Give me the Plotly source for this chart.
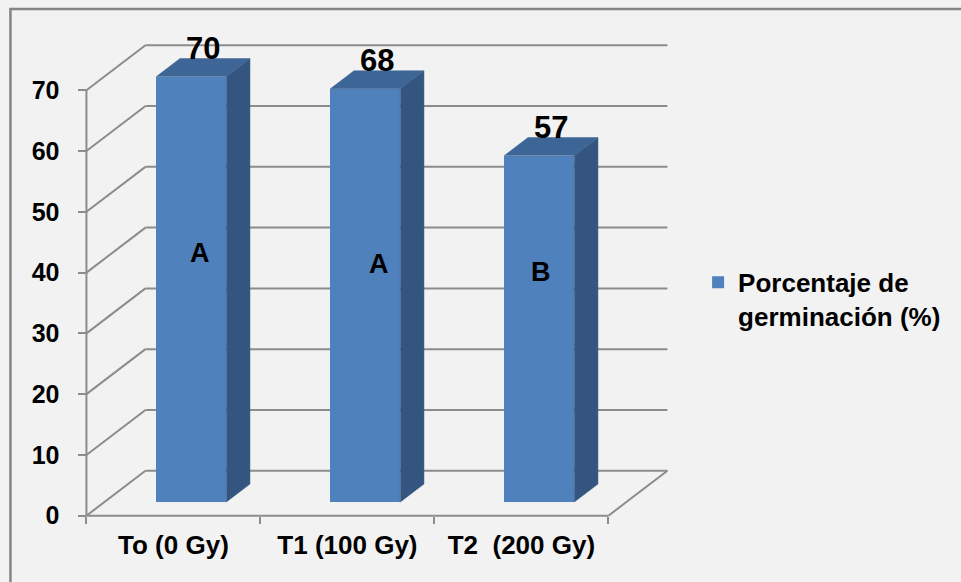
import plotly.graph_objects as go

# ---- data ----
categories = ["To (0 Gy)", "T1 (100 Gy)", "T2\u00a0 (200 Gy)"]
values = [70, 68, 57]
group_letters = ["A", "A", "B"]
series_name = "Porcentaje de<br>germinación (%)"
y_ticks = [0, 10, 20, 30, 40, 50, 60, 70]

# ---- geometry / style constants ----
W, H = 961, 582
PXX, X0PX = 174.0, 86.0      # px per category unit, pixel of x=0
PXY, Y0PX = 6.08, 516.0      # px per value unit, pixel of y=0
DX = 59.0 / PXX              # depth offset of back wall (x units)
DY = 45.0 / PXY              # depth offset of back wall (value units)
F0, FD = 0.304, 0.40         # bar depth start / depth size (fraction)
BW = 70.0 / PXX              # bar width
XR = [-0.06, 3.40]
YR = [-1.2, 78.6]
L = X0PX + XR[0] * PXX
PW = (XR[1] - XR[0]) * PXX
R = W - L - PW
B = H - Y0PX + YR[0] * PXY
PH = (YR[1] - YR[0]) * PXY
T = H - B - PH

FRONT = "#4F81BD"
SIDE = "#34557F"
TOP = "#3D6595"
GRID = "#8C8C8C"
FONT = "Liberation Sans, Arial, sans-serif"

# letter placement inside bars (x within category, value height)
letter_dx = [0.652, 0.684, 0.615]
letter_y = [43.3, 41.4, 40.1]


def px_x(px):
    return (px - L) / PW


def px_y(py):
    return (H - B - py) / PH


fig = go.Figure()

n = len(categories)
centers = [i + 0.5 for i in range(n)]
front_x = [c + F0 * DX for c in centers]
base = F0 * DY

fig.add_trace(go.Bar(
    x=front_x, y=values, base=base, width=BW,
    marker=dict(color=FRONT, line=dict(width=0)),
    name=series_name, showlegend=True, hoverinfo="skip",
))

ddx, ddy = FD * DX, FD * DY
for xc, v in zip(front_x, values):
    xl, xr = xc - BW / 2, xc + BW / 2
    top = base + v
    # side face
    fig.add_trace(go.Scatter(
        x=[xr, xr + ddx, xr + ddx, xr, xr],
        y=[base, base + ddy, top + ddy, top, base],
        fill="toself", fillcolor=SIDE, mode="lines",
        line=dict(width=0.5, color=SIDE), showlegend=False, hoverinfo="skip"))
    # top face
    fig.add_trace(go.Scatter(
        x=[xl, xr, xr + ddx, xl + ddx, xl],
        y=[top, top, top + ddy, top + ddy, top],
        fill="toself", fillcolor=TOP, mode="lines",
        line=dict(width=0.5, color=TOP), showlegend=False, hoverinfo="skip"))

shapes = []
ln = dict(color=GRID, width=2)
for v in y_ticks:
    shapes.append(dict(type="line", xref="x", yref="y", x0=DX, x1=n + DX,
                       y0=v + DY, y1=v + DY, line=ln, layer="below"))
    shapes.append(dict(type="line", xref="x", yref="y", x0=0, x1=DX,
                       y0=v, y1=v + DY, line=ln, layer="below"))
shapes.append(dict(type="line", xref="x", yref="y", x0=0, x1=0,
                   y0=0, y1=max(y_ticks), line=ln, layer="below"))
shapes.append(dict(type="line", xref="x", yref="y", x0=0, x1=n,
                   y0=0, y1=0, line=ln, layer="below"))
shapes.append(dict(type="line", xref="x", yref="y", x0=n, x1=n + DX,
                   y0=0, y1=DY, line=ln, layer="below"))
# outer chart border
shapes.append(dict(type="rect", xref="paper", yref="paper",
                   x0=px_x(10), x1=px_x(975), y0=px_y(595), y1=px_y(9),
                   line=dict(color="#858585", width=2.5), layer="below"))

annotations = []
fm = F0 + FD / 2
for c, v in zip(centers, values):
    annotations.append(dict(
        x=c + fm * DX, y=base + v + FD / 2 * DY, xref="x", yref="y",
        text=str(v), showarrow=False, yshift=19,
        font=dict(family=FONT, size=31, color="black", weight="bold")))
for i, (lt, ldx, ly) in enumerate(zip(group_letters, letter_dx, letter_y)):
    annotations.append(dict(
        x=i + ldx, y=ly, xref="x", yref="y", text=lt, showarrow=False,
        font=dict(family=FONT, size=27, color="black", weight="bold")))

fig.update_layout(
    width=W, height=H,
    margin=dict(l=L, r=R, t=T, b=B, autoexpand=False, pad=0),
    paper_bgcolor="#F2F2F2", plot_bgcolor="rgba(0,0,0,0)",
    font=dict(family=FONT, size=26, color="black", weight="bold"),
    bargap=0,
    xaxis=dict(range=XR, anchor="free", position=(-YR[0]) / (YR[1] - YR[0]),
               tickvals=centers, ticktext=categories, ticks="",
               showgrid=False, zeroline=False, showline=False,
               ticklabelstandoff=11,
               tickfont=dict(family=FONT, size=26, color="black", weight="bold"),
               minor=dict(tickvals=list(range(n + 1)), ticks="outside",
                          ticklen=7, tickwidth=2, tickcolor=GRID, showgrid=False)),
    yaxis=dict(range=YR, anchor="free", position=(-XR[0]) / (XR[1] - XR[0]),
               tickvals=y_ticks, ticks="outside", ticklen=8, tickwidth=2,
               tickcolor=GRID, showgrid=False, zeroline=False, showline=False,
               ticklabelstandoff=14,
               tickfont=dict(family=FONT, size=25, color="black", weight="bold")),
    legend=dict(x=px_x(697.7), xanchor="left", y=px_y(259), yanchor="top",
                valign="top", bgcolor="rgba(0,0,0,0)",
                font=dict(family=FONT, size=26, color="black", weight="bold")),
    shapes=shapes, annotations=annotations,
)

fig.write_html("out.html")
